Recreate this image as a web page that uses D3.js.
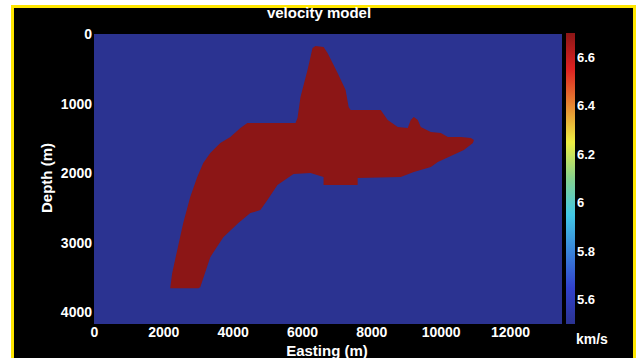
<!DOCTYPE html>
<html>
<head>
<meta charset="utf-8">
<script src="https://cdn.jsdelivr.net/npm/d3@7"></script>
<style>
  html, body { margin: 0; padding: 0; background: #ffffff; }
  svg { display: block; }
  text { font-family: "Liberation Sans", Arial, Helvetica, sans-serif; font-weight: bold; fill: #ffffff; }
</style>
</head>
<body>
<svg id="chart" width="638" height="358"></svg>
<script>
// Model extent (m) and velocity range (km/s)
const eastingExtent = [0, 13500];
const depthExtent = [0, 4170];
const velocityExtent = [5.5, 6.7];

// Tick labels
const eastingTicks = [0, 2000, 4000, 6000, 8000, 10000, 12000];
const depthTicks = [0, 1000, 2000, 3000, 4000];
const velocityTicks = [5.6, 5.8, 6, 6.2, 6.4, 6.6];

// Background and body velocities (km/s)
const backgroundVelocity = 5.5;
const bodyVelocity = 6.7;

// Outline of the high-velocity body: easting (m) and depth (m) of each vertex
const bodyEasting = [2198, 2255, 2400, 2574, 2776, 2978, 3152, 3354, 3643, 3933, 4222, 4424,
  5812, 5870, 5957, 6159, 6304, 6390, 6622, 6737, 7027, 7258, 7345, 7403, 8270, 8472, 8762,
  9051, 9137, 9224, 9340, 9427, 9716, 10005, 10207, 10583, 10872, 10959, 10930, 10670, 10294,
  9918, 9716, 9224, 8848, 7605, 7605, 6622, 6622, 6246, 5754, 5292, 5003, 4800, 4511, 4164,
  3730, 3354, 3065, 3007];
const bodyDepth = [3655, 3439, 3108, 2719, 2345, 2057, 1856, 1712, 1568, 1482, 1352, 1281,
  1281, 1209, 906, 518, 201, 173, 187, 273, 561, 806, 1050, 1093, 1093, 1237, 1338,
  1352, 1237, 1194, 1237, 1338, 1410, 1424, 1482, 1482, 1496, 1525, 1568, 1669, 1755,
  1842, 1914, 1986, 2057, 2072, 2173, 2173, 2057, 2000, 2014, 2173, 2388, 2532, 2575, 2719,
  2921, 3209, 3640, 3655];

// Colour stops (fraction of the velocity range -> colour), jet-like
const colorStops = [0, 0.125, 0.375, 0.5, 0.625, 0.875, 1];
const colorValues = ["#2b3391", "#3141cc", "#42c8e6", "#86d28e", "#eeee42", "#de2222", "#8c1616"];

const svg = d3.select("#chart");

// Frame
svg.append("rect")
  .attr("x", 12.5).attr("y", 6.5)
  .attr("width", 622).attr("height", 360)
  .attr("fill", "#000000")
  .attr("stroke", "#ffe600").attr("stroke-width", 3);

const plot = { left: 94, top: 34, right: 562, bottom: 324 };

const x = d3.scaleLinear().domain(eastingExtent).range([plot.left, plot.right]);
const y = d3.scaleLinear().domain(depthExtent).range([plot.top, plot.bottom]);

const vFrac = d3.scaleLinear().domain(velocityExtent).range([0, 1]);
const color = d3.scaleLinear()
  .domain(colorStops.map(t => vFrac.invert(t)))
  .range(colorValues)
  .clamp(true);

// Background model
svg.append("rect")
  .attr("x", x(eastingExtent[0])).attr("y", y(depthExtent[0]))
  .attr("width", x(eastingExtent[1]) - x(eastingExtent[0]))
  .attr("height", y(depthExtent[1]) - y(depthExtent[0]))
  .attr("fill", color(backgroundVelocity));

// High-velocity body
const body = bodyEasting.map((e, i) => [e, bodyDepth[i]]);
svg.append("path")
  .datum(body)
  .attr("d", d3.line().x(d => x(d[0])).y(d => y(d[1])).curve(d3.curveLinearClosed))
  .attr("fill", color(bodyVelocity));

// Axes
const xAxis = svg.append("g")
  .attr("transform", `translate(0,${plot.bottom})`)
  .call(d3.axisBottom(x).tickValues(eastingTicks).tickFormat(d3.format("d")).tickSize(0).tickPadding(3));
xAxis.select(".domain").remove();
xAxis.selectAll("text")
  .attr("fill", "#ffffff").attr("font-size", 14)
  .attr("font-family", "'Liberation Sans', Arial, sans-serif").attr("font-weight", "bold");

const yAxis = svg.append("g")
  .attr("transform", `translate(${plot.left},0)`)
  .call(d3.axisLeft(y).tickValues(depthTicks).tickFormat(d3.format("d")).tickSize(0).tickPadding(2));
yAxis.select(".domain").remove();
yAxis.selectAll("text")
  .attr("fill", "#ffffff").attr("font-size", 14)
  .attr("font-family", "'Liberation Sans', Arial, sans-serif").attr("font-weight", "bold");

// Axis titles
svg.append("text")
  .attr("x", 327).attr("y", 356)
  .attr("text-anchor", "middle").attr("font-size", 15)
  .text("Easting (m)");

svg.append("text")
  .attr("transform", "translate(52,178) rotate(-90)")
  .attr("text-anchor", "middle").attr("font-size", 15)
  .text("Depth (m)");

svg.append("text")
  .attr("x", 319).attr("y", 18)
  .attr("text-anchor", "middle").attr("font-size", 15)
  .text("velocity model");

// Colour bar
const cb = { left: 566, width: 9 };
const cbY = d3.scaleLinear().domain(velocityExtent).range([plot.bottom, plot.top - 1]);

const grad = svg.append("defs").append("linearGradient")
  .attr("id", "cbGrad")
  .attr("x1", 0).attr("y1", 1).attr("x2", 0).attr("y2", 0);
grad.selectAll("stop")
  .data(colorStops)
  .join("stop")
  .attr("offset", d => d)
  .attr("stop-color", (d, i) => colorValues[i]);

svg.append("rect")
  .attr("x", cb.left).attr("y", cbY(velocityExtent[1]))
  .attr("width", cb.width)
  .attr("height", cbY(velocityExtent[0]) - cbY(velocityExtent[1]))
  .attr("fill", "url(#cbGrad)");

const cAxis = svg.append("g")
  .attr("transform", `translate(${cb.left + cb.width},0)`)
  .call(d3.axisRight(cbY).tickValues(velocityTicks).tickFormat(d => String(d)).tickSize(0).tickPadding(2));
cAxis.select(".domain").remove();
cAxis.selectAll("text")
  .attr("fill", "#ffffff").attr("font-size", 13)
  .attr("font-family", "'Liberation Sans', Arial, sans-serif").attr("font-weight", "bold");

svg.append("text")
  .attr("x", 576).attr("y", 344)
  .attr("font-size", 14)
  .text("km/s");
</script>
</body>
</html>
